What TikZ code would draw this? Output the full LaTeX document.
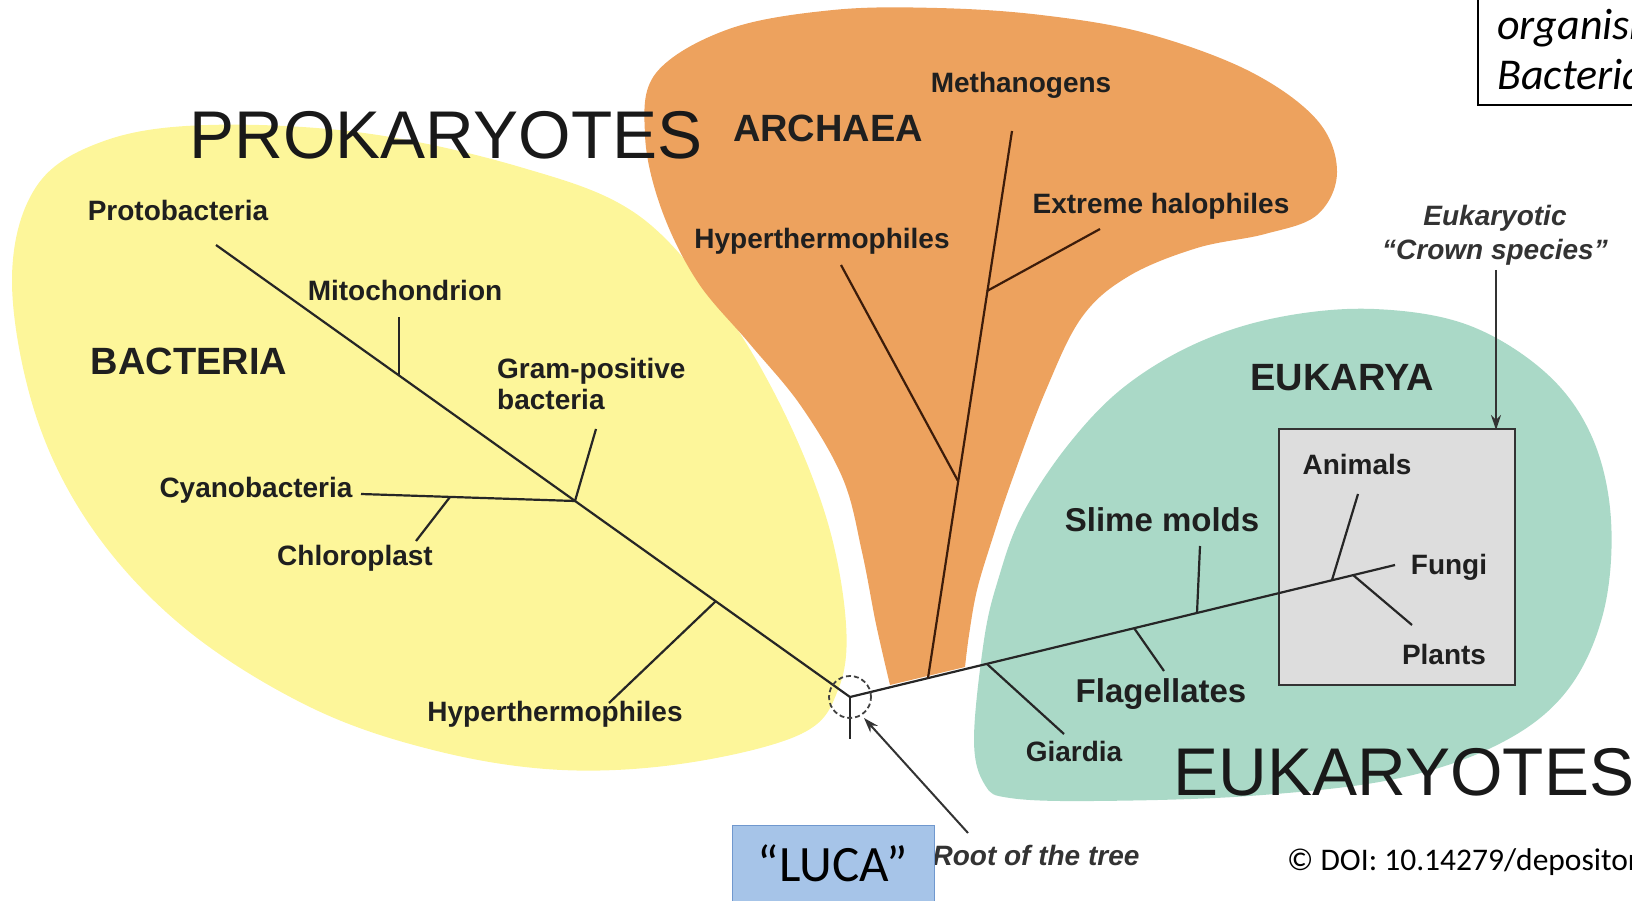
\documentclass[tikz,border=0pt]{standalone}
\usepackage{fontspec}
\setmainfont{Liberation Sans}
\newfontfamily\calfont{Carlito}
\usetikzlibrary{arrows.meta}
\definecolor{bactyellow}{RGB}{253,246,154}
\definecolor{archorange}{RGB}{237,162,94}
\definecolor{eukgreen}{RGB}{170,217,199}
\definecolor{crowngray}{RGB}{221,221,221}
\definecolor{lucablue}{RGB}{166,196,232}
\definecolor{lucaedge}{RGB}{112,152,206}
\definecolor{archline}{RGB}{60,28,10}

\begin{document}
\begin{tikzpicture}[x=1pt,y=-1pt]
\tikzset{taxlbl/.style={font=\bfseries\fontsize{28}{31}\selectfont,text=black!88,inner sep=0pt},
  grouplbl/.style={font=\bfseries\fontsize{38}{40}\selectfont,text=black!88,inner sep=0pt},
  superlbl/.style={font=\fontsize{67.5}{70}\selectfont,text=black!90,inner sep=0pt},
  notelbl/.style={font=\bfseries\itshape\fontsize{28}{34}\selectfont,text=black!80,inner sep=0pt},
  branch/.style={line width=2.2pt,black!85},
  pointer/.style={line width=2pt,black!80,-{Stealth[length=15pt,width=10pt]}}}
\useasboundingbox (0,0) rectangle (1632,901);
\clip (0,0) rectangle (1632,901);

% domains
\fill[bactyellow] plot[smooth cycle,tension=0.6] coordinates {(12,281) (36,187) (104,141) (208,125) (364,133) (520,167) (635,213) (718,302) (781,406) (827,520) (846,624) (838,690) (801,734) (687,763) (562,770) (437,751) (312,708) (187,630) (94,531) (36,416)};
\fill[archorange] plot[smooth,tension=0.6] coordinates {(890,685) (876,624) (862,552) (843,479) (801,406) (749,343) (697,281) (661,208) (645,135) (656,73) (729,29) (833,10) (937,8) (1041,15) (1145,33) (1249,71) (1317,120) (1337,172) (1317,215) (1265,234) (1197,248) (1129,276) (1082,317) (1046,390) (1012,480) (992,540) (977,590) (969,635) (965,667)} -- cycle;
\fill[eukgreen] plot[smooth cycle,tension=0.6] coordinates {(974,740) (985,785) (1010,798) (1093,801) (1249,796) (1395,779) (1499,744) (1566,692) (1603,614) (1611,520) (1592,437) (1546,373) (1468,325) (1374,309) (1280,317) (1197,343) (1124,387) (1068,445) (1022,515) (998,580) (984,640)};
\draw[line width=2pt,black!80,fill=crowngray] (1279,429) rectangle (1515,685);

% tree
\coordinate (root) at (850,697);
\coordinate (stem) at (850,739);
\coordinate (protoEnd) at (216,245);
\coordinate (mitoJ) at (399,375);
\coordinate (mitoEnd) at (399,317);
\coordinate (gramJ) at (575,501);
\coordinate (gramEnd) at (596,429);
\coordinate (cyanoEnd) at (361,494);
\coordinate (chloroJ) at (450,497);
\coordinate (chloroEnd) at (416,541);
\coordinate (hypBJ) at (716,601);
\coordinate (hypBEnd) at (609,703);
\coordinate (fungiEnd) at (1395,565);
\coordinate (archJ) at (928,678);
\coordinate (methEnd) at (1012,131);
\coordinate (hypAJ) at (958,481);
\coordinate (hypAEnd) at (841,265);
\coordinate (haloJ) at (987,291);
\coordinate (haloEnd) at (1100,229);
\coordinate (giardJ) at (987,664);
\coordinate (giardEnd) at (1064,734);
\coordinate (flagJ) at (1134,628);
\coordinate (flagEnd) at (1164,671);
\coordinate (slimeJ) at (1197,613);
\coordinate (slimeEnd) at (1200,546);
\coordinate (animJ) at (1332,580);
\coordinate (animEnd) at (1358,494);
\coordinate (plantJ) at (1353,575);
\coordinate (plantEnd) at (1412,625);

\draw[branch] (protoEnd) -- (root) -- (fungiEnd);
\draw[branch] (root) -- (stem);
\draw[branch] (mitoEnd) -- (mitoJ);
\draw[branch] (gramEnd) -- (gramJ) -- (cyanoEnd);
\draw[branch] (chloroEnd) -- (chloroJ);
\draw[branch] (hypBEnd) -- (hypBJ);
\draw[branch,archline] (archJ) -- (methEnd);
\draw[branch,archline] (hypAEnd) -- (hypAJ);
\draw[branch,archline] (haloEnd) -- (haloJ);
\draw[branch] (giardEnd) -- (giardJ);
\draw[branch] (flagEnd) -- (flagJ);
\draw[branch] (slimeEnd) -- (slimeJ);
\draw[branch] (animEnd) -- (animJ);
\draw[branch] (plantEnd) -- (plantJ);
\draw[line width=1.8pt,black!75,dash pattern=on 5pt off 3pt] (root) circle[radius=21pt];

% labels
\node[superlbl] (prokL) at (446,135) {PROKARYOTES};
\node[superlbl] (eukL) at (1404,772) {EUKARYOTES};
\node[grouplbl] (archL) at (828,128) {ARCHAEA};
\node[grouplbl] (bactL) at (189,361) {BACTERIA};
\node[grouplbl] (eukaryaL) at (1342,378) {EUKARYA};
\node[taxlbl] (methL) at (1021,85) {Methanogens};
\node[taxlbl] (protoL) at (178,210) {Protobacteria};
\node[taxlbl] (mitoL) at (405,290) {Mitochondrion};
\node[taxlbl,align=left,anchor=west] (gramL) at (497,384) {Gram-positive\\bacteria};
\node[taxlbl] (cyanoL) at (256,490) {Cyanobacteria};
\node[taxlbl] (chloroL) at (355,558) {Chloroplast};
\node[taxlbl] (hypBL) at (555,714) {Hyperthermophiles};
\node[taxlbl] (hypAL) at (822,241) {Hyperthermophiles};
\node[taxlbl] (haloL) at (1161,206) {Extreme halophiles};
\node[taxlbl] (animL) at (1357,464) {Animals};
\node[taxlbl] (fungiL) at (1449,567) {Fungi};
\node[taxlbl] (plantL) at (1444,654) {Plants};
\node[taxlbl] (giardL) at (1074,751) {Giardia};
\node[taxlbl,font=\bfseries\fontsize{33}{36}\selectfont] (slimeL) at (1162,520) {Slime molds};
\node[taxlbl,font=\bfseries\fontsize{33}{36}\selectfont] (flagL) at (1161,694) {Flagellates};
\node[notelbl,align=center] (crownL) at (1495,235) {Eukaryotic\\“Crown species”};
\node[notelbl] (rootL) at (1036,855) {Root of the tree};

\coordinate (crownTail) at (1496,270);
\coordinate (crownTip) at (1496,430);
\coordinate (rootTail) at (968,833);
\coordinate (rootTip) at (864,718);
\draw[pointer] (crownTail) -- (crownTip);
\draw[pointer] (rootTail) -- (rootTip);

\node[draw=lucaedge,fill=lucablue,line width=1pt,minimum width=202pt,minimum height=76pt,
  font=\calfont\fontsize{51}{55}\selectfont] (luca) at (833,863) {“LUCA”};
\node[anchor=west,inner sep=0pt,font=\calfont\fontsize{31.5}{34}\selectfont] (doi) at (1287,862) {© DOI: 10.14279/depositonce};

\draw[line width=1.5pt] (1478,-10) rectangle (1700,105);
\node[anchor=west,inner sep=0pt,font=\calfont\itshape\fontsize{44}{48}\selectfont] (noteA) at (1497,28) {organisms};
\node[anchor=west,inner sep=0pt,font=\calfont\itshape\fontsize{44}{48}\selectfont] (noteB) at (1497,75) {Bacteria};
\end{tikzpicture}
\end{document}
